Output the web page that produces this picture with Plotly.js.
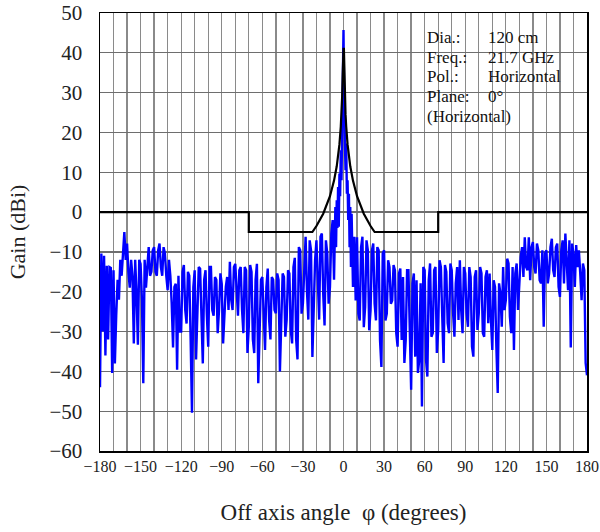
<!DOCTYPE html>
<html>
<head>
<meta charset="utf-8">
<script src="https://cdn.plot.ly/plotly-3.0.1.min.js"></script>
<style>html,body{margin:0;padding:0;background:#fff;}#chart{width:600px;height:532px;}</style>
</head>
<body>
<div id="chart"></div>
<script>
// Measured pattern, left wing: angles -180 .. -7 (1 degree steps)
const leftGain = [
-44,-10.4,-30,-11,-36,-13.5,-32,-13.8,-14,-40.4,-14.6,-38,-26,-17,-22,-12,-16,-8.8,-5,-12,
-7.9,-15,-19,-12,-16,-33,-12,-20.4,-33.3,-12,-13,-22,-43,-12,-19,-13.8,-8.8,-16,-15,-9.6,
-8.8,-15,-16,-9.6,-7.9,-13.8,-16,-8.8,-10.4,-16,-19.6,-12,-16,-23,-34,-18.8,-18,-39.6,-16,-30,
-30,-15,-13.3,-24.6,-28,-15,-16,-32,-50.4,-18.8,-14.6,-37,-22,-13.8,-14.2,-24,-38,-17,-14.6,-26,
-33.8,-13.8,-13.8,-24.6,-26,-16.3,-17,-30.4,-24.6,-15.4,-18,-33,-25.4,-18.8,-16.3,-24.6,-12.5,-22,-24.6,-13.8,
-13,-22,-26,-14.6,-13.8,-24.6,-30.4,-13.8,-14.6,-35.4,-28.8,-13.3,-15,-32,-35.4,-17,-13,-43,-30.4,-17,
-16.3,-25.4,-34.6,-18.8,-14.2,-27,-32,-16.3,-17,-24.6,-25.4,-15.4,-17,-40,-26.3,-15.4,-16.3,-31.3,-27,-14.6,
-15.4,-29.6,-33,-13.8,-11.5,-32,-37,-8.8,-9.6,-25.5,-23,-12,-6.2,-20,-27,-7.1,-9.6,-36.4,-23.8,-12,
-7.1,-20.5,-27,-6.2,-5.4,-20.5,-28.5,-7.1,-10.4,-23,-18.8,-5.4,-2,-17
];
// Main lobe: angles -6.5 .. 6.5 (0.5 degree steps)
const centerGain = [
-10,1.3,-8.8,3,-4,6.3,-3.7,9.7,4,15.5,8,23,28,45.7,26.4,18.9,10.5,17.2,4.6,8,-2,4.6,-8.8,1.3,-13.8,-0.4,-15
];
// Right wing: angles 7 .. 180 (1 degree steps)
const rightGain = [
-18.8,-6.2,-22.2,-6.3,-25.5,-27.2,-8.8,-6.2,-28.9,-23.8,-7.1,-9.6,-29.7,-24.7,-9.6,-7.9,-23,-27.2,-8.8,-9.6,
-32.2,-38.9,-10.4,-9.6,-27.2,-25.5,-12.1,-13.8,-23,-22.2,-13.3,-14.6,-30.4,-33.8,-15.4,-14.2,-32.1,-16.3,-37.9,-32.1,
-14.6,-14.6,-33.8,-44.6,-17.9,-15.4,-36.3,-17.1,-40.4,-37.1,-17.9,-48.8,-13.8,-14.6,-37.1,-41.3,-17.1,-12.9,-31.3,-30.4,
-14.6,-13.8,-35.4,-29.6,-12.1,-13.8,-26.3,-37.9,-13.3,-15,-27.9,-30.4,-12.9,-14.6,-25.4,-31.3,-17.9,-13.8,-27.1,-12.1,
-24.6,-30.4,-13.8,-15.4,-25.4,-28.8,-13.8,-16.3,-33.8,-36.3,-16.3,-14.6,-29.6,-25.4,-13.8,-15.4,-30.4,-31.3,-16.3,-14.6,
-27.9,-15.4,-27.1,-34.6,-17.1,-18.8,-33.8,-45.4,-17.9,-20.4,-28.8,-13.8,-24.6,-22.1,-11.7,-12.9,-26.3,-30.4,-13.8,-34.6,
-15.4,-12.9,-24.6,-18.8,-11.3,-8.8,-16.3,-6.3,-13.8,-14.6,-6.3,-17.1,-8.8,-7.5,-13.8,-15.4,-7.9,-9.6,-17.1,-17.9,
-9.6,-28.8,-10.4,-9.6,-17.9,-15.4,-8.8,-6.7,-14.6,-16.3,-8.8,-7.9,-18.8,-21.3,-9.6,-7.1,-17.9,-5.4,-13.8,-19.6,
-7.1,-34,-7.9,-10.4,-18.8,-8.3,-13.8,-9.6,-15.4,-22.1,-12.9,-14.6,-37.9,-41
];
// Reference envelope (mask)
const maskAngle = [-180,-70,-70,-23,-20,-15,-10,-7,-5,-3,-2,-1.5,-1,-0.6,-0.3,0,0.3,0.6,1,1.5,2,3,5,7,10,15,20,23,70,70,180];
const maskGain  = [0,0,-5,-5,-3.5,-0.4,4,7.9,11.5,17,21.5,24.6,29,34.5,41,41,41,34.5,29,24.6,21.5,17,11.5,7.9,4,-0.4,-3.5,-5,-5,0,0];

const xTickVals = [-180,-170,-160,-150,-140,-130,-120,-110,-100,-90,-80,-70,-60,-50,-40,-30,-20,-10,0,10,20,30,40,50,60,70,80,90,100,110,120,130,140,150,160,170,180];
const xTickText = ['\u2212180','','','\u2212150','','','\u2212120','','','\u221290','','','\u221260','','','\u221230','','','0','','','30','','','60','','','90','','','120','','','150','','','180'];
const yTickVals = [-60,-50,-40,-30,-20,-10,0,10,20,30,40,50];

const infoLines = [['Dia.:','120 cm'],['Freq.:','21.7 GHz'],['Pol.:','Horizontal'],['Plane:','0\u00b0'],['(Horizontal)','']];

// Build angle arrays
const angles = [], gains = [];
for (let i = 0; i < leftGain.length; i++) { angles.push(-180 + i); gains.push(leftGain[i]); }
for (let i = 0; i < centerGain.length; i++) { angles.push(-6.5 + 0.5 * i); gains.push(centerGain[i]); }
for (let i = 0; i < rightGain.length; i++) { angles.push(7 + i); gains.push(rightGain[i]); }

const serif = 'Liberation Serif, Times New Roman, serif';
const traces = [
  {x: angles, y: gains, type: 'scatter', mode: 'lines', line: {color: '#0000ff', width: 2.4}, hoverinfo: 'skip'},
  {x: maskAngle, y: maskGain, type: 'scatter', mode: 'lines', line: {color: '#000000', width: 2.2}, hoverinfo: 'skip'}
];

const annotations = [];
infoLines.forEach((row, i) => {
  annotations.push({xref: 'paper', yref: 'paper', x: 0.668, y: 0.945 - i * 0.0455, xanchor: 'left', yanchor: 'middle',
    text: row[0], showarrow: false, font: {family: serif, size: 17, color: '#111'}});
  if (row[1]) annotations.push({xref: 'paper', yref: 'paper', x: 0.793, y: 0.945 - i * 0.0455, xanchor: 'left', yanchor: 'middle',
    text: row[1], showarrow: false, font: {family: serif, size: 17, color: '#111'}});
});

const layout = {
  width: 600, height: 532,
  margin: {l: 100, r: 13, t: 13, b: 81},
  paper_bgcolor: '#fff', plot_bgcolor: '#fff',
  showlegend: false,
  font: {family: serif, color: '#222'},
  xaxis: {
    range: [-180, 180], tickmode: 'array', tickvals: xTickVals, ticktext: xTickText,
    showgrid: true, gridcolor: '#8a8a8a', gridwidth: 1.3,
    showline: true, linecolor: '#000', linewidth: 1.5, mirror: true,
    ticks: '', zeroline: false, tickfont: {family: serif, size: 16, color: '#222'},
    title: {text: 'Off axis angle  \u03c6 (degrees)', font: {family: serif, size: 23, color: '#222'}, standoff: 30},
    automargin: false
  },
  yaxis: {
    range: [-60, 50], tickmode: 'array', tickvals: yTickVals,
    showgrid: true, gridcolor: '#6e6e6e', gridwidth: 1.2,
    showline: true, linecolor: '#000', linewidth: 1.5, mirror: true,
    ticks: '', ticklabelstandoff: 12, zeroline: false, tickfont: {family: serif, size: 21, color: '#222'},
    title: {text: 'Gain (dBi)', font: {family: serif, size: 22, color: '#222'}, standoff: 18},
    automargin: false
  },
  shapes: [{type: 'rect', xref: 'paper', yref: 'paper', x0: 0.643, x1: 0.996, y0: 0.708, y1: 0.99,
    fillcolor: '#fff', line: {width: 0}, layer: 'between'}],
  annotations: annotations
};

Plotly.newPlot('chart', traces, layout, {displayModeBar: false, staticPlot: true});
</script>
</body>
</html>
